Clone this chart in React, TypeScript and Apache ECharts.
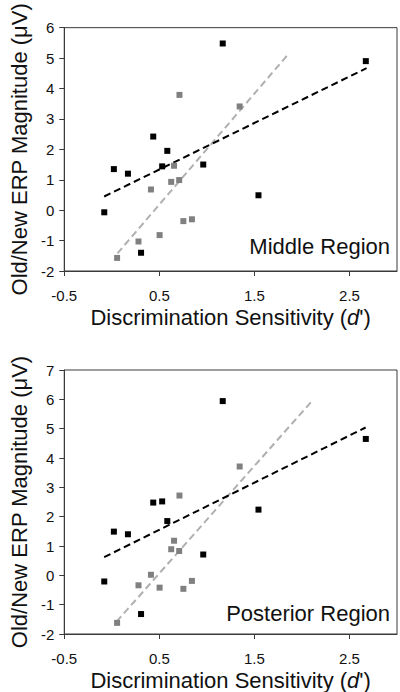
import React, { useEffect, useRef } from "react";
import * as echarts from "echarts";

// Discrimination sensitivity (d') of the two groups
const blackDPrime = [1.167, 2.672, 0.436, 0.584, 0.53, 0.962, 0.022, 0.17, 1.543, -0.079, 0.308];
const grayDPrime = [0.712, 1.345, 0.655, 0.625, 0.709, 0.412, 0.753, 0.843, 0.503, 0.281, 0.056];

// Old/New ERP magnitude (µV), middle region
const middleBlack = [5.48, 4.9, 2.42, 1.95, 1.44, 1.5, 1.35, 1.2, 0.49, -0.07, -1.4];
const middleGray = [3.79, 3.41, 1.46, 0.93, 0.99, 0.68, -0.36, -0.3, -0.82, -1.03, -1.57];

// Old/New ERP magnitude (µV), posterior region
const posteriorBlack = [5.94, 4.65, 2.48, 1.85, 2.52, 0.71, 1.49, 1.4, 2.24, -0.21, -1.32];
const posteriorGray = [2.72, 3.71, 1.18, 0.89, 0.83, 0.02, -0.46, -0.19, -0.42, -0.34, -1.62];

// Regression line end points [x, y]
const middleBlackFit = [[-0.08, 0.45], [2.68, 4.67]];
const middleGrayFit = [[0.06, -1.42], [1.84, 5.07]];
const posteriorBlackFit = [[-0.08, 0.62], [2.67, 5.04]];
const posteriorGrayFit = [[0.05, -1.58], [2.11, 5.96]];

const xTicks = { min: -0.5, max: 3, interval: 1 };
const middleYTicks = { min: -2, max: 6, interval: 1 };
const posteriorYTicks = { min: -2, max: 7, interval: 1 };

const regionLabels = ["Middle Region", "Posterior Region"];

const FONT = "'Liberation Sans', Arial, Helvetica, sans-serif";
const AXIS_COLOR = "#3a3a3a";
const TEXT_COLOR = "#111";

const pair = (xs: number[], ys: number[]) => xs.map((x, i) => [x, ys[i]]);

export default function App() {
  const ref = useRef<HTMLDivElement>(null);

  useEffect(() => {
    if (!ref.current) return;
    const chart = echarts.init(ref.current, undefined, { renderer: "svg" });

    const xAxisBase = (gridIndex: number) => ({
      type: "value",
      gridIndex,
      min: xTicks.min,
      max: xTicks.max,
      interval: xTicks.interval,
      name: "Discrimination Sensitivity ({i|d}')",
      nameLocation: "middle",
      nameGap: 35,
      nameTextStyle: {
        fontSize: 22,
        fontFamily: FONT,
        color: TEXT_COLOR,
        rich: { i: { fontStyle: "italic", fontSize: 22, fontFamily: FONT, color: TEXT_COLOR } },
      },
      axisLine: { show: true, onZero: false, lineStyle: { color: AXIS_COLOR, width: 1 } },
      axisTick: { show: true, inside: false, length: 5, lineStyle: { color: AXIS_COLOR } },
      axisLabel: {
        fontSize: 15,
        fontFamily: FONT,
        color: TEXT_COLOR,
        margin: 17,
        showMaxLabel: false,
        formatter: (v: number) => (Math.abs(v - xTicks.max) < 1e-9 ? "" : String(v)),
      },
      splitLine: { show: false },
    });

    const yAxisBase = (gridIndex: number, t: { min: number; max: number; interval: number }) => ({
      type: "value",
      gridIndex,
      min: t.min,
      max: t.max,
      interval: t.interval,
      name: "Old/New ERP Magnitude (\u03bcV)",
      nameLocation: "middle",
      nameGap: 30,
      nameTextStyle: { fontSize: 22, fontFamily: FONT, color: TEXT_COLOR },
      axisLine: { show: true, onZero: false, lineStyle: { color: AXIS_COLOR, width: 1 } },
      axisTick: { show: true, inside: false, length: 5, lineStyle: { color: AXIS_COLOR } },
      axisLabel: { fontSize: 15, fontFamily: FONT, color: TEXT_COLOR, margin: 10 },
      splitLine: { show: false },
    });

    const fitLine = (data: number[][], idx: number, color: string) => ({
      type: "line",
      xAxisIndex: idx,
      yAxisIndex: idx,
      data,
      symbol: "none",
      silent: true,
      lineStyle: { color, width: 2, type: [7, 4] },
      z: 2,
    });

    const points = (data: number[][], idx: number, color: string) => ({
      type: "scatter",
      xAxisIndex: idx,
      yAxisIndex: idx,
      data,
      symbol: "rect",
      symbolSize: 6,
      itemStyle: { color, opacity: 1 },
      z: 3,
    });

    chart.setOption({
      animation: false,
      backgroundColor: "#fff",
      grid: [
        { left: 52, top: 7, width: 345, height: 264, show: true, borderColor: AXIS_COLOR, borderWidth: 1, backgroundColor: "transparent" },
        { left: 52, top: 370, width: 345, height: 264, show: true, borderColor: AXIS_COLOR, borderWidth: 1, backgroundColor: "transparent" },
      ],
      xAxis: [xAxisBase(0), xAxisBase(1)],
      yAxis: [yAxisBase(0, middleYTicks), yAxisBase(1, posteriorYTicks)],
      graphic: [
        {
          type: "text",
          right: 10,
          top: 235,
          style: { text: regionLabels[0], fontSize: 22, fontFamily: FONT, fill: TEXT_COLOR },
        },
        {
          type: "text",
          right: 10,
          top: 602,
          style: { text: regionLabels[1], fontSize: 22, fontFamily: FONT, fill: TEXT_COLOR },
        },
      ],
      series: [
        fitLine(middleGrayFit, 0, "#b0b0b0"),
        fitLine(middleBlackFit, 0, "#000"),
        points(pair(grayDPrime, middleGray), 0, "#808080"),
        points(pair(blackDPrime, middleBlack), 0, "#000"),
        fitLine(posteriorGrayFit, 1, "#b0b0b0"),
        fitLine(posteriorBlackFit, 1, "#000"),
        points(pair(grayDPrime, posteriorGray), 1, "#808080"),
        points(pair(blackDPrime, posteriorBlack), 1, "#000"),
      ],
    });

    return () => chart.dispose();
  }, []);

  return (
    <div
      ref={ref}
      style={{ position: "absolute", left: 0, top: 0, width: 400, height: 692 }}
    />
  );
}
